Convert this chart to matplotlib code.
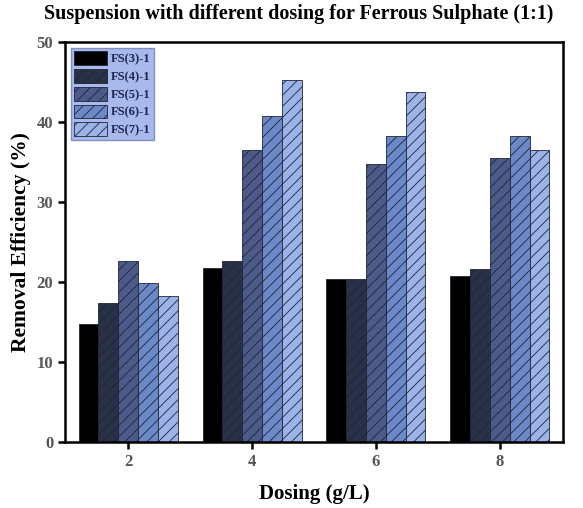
# grouped bar chart: removal efficiency vs dosing for ferrous sulphate suspensions
import numpy as np
import matplotlib
matplotlib.use('Agg')
import matplotlib.pyplot as plt

plt.rcParams['font.family'] = ['Liberation Serif', 'DejaVu Serif']
plt.rcParams['font.weight'] = 'bold'
plt.rcParams['hatch.linewidth'] = 0.6

dosing = [2, 4, 6, 8]
series = ['FS(3)-1', 'FS(4)-1', 'FS(5)-1', 'FS(6)-1', 'FS(7)-1']
fs3 = [14.8, 21.7, 20.4, 20.8]
fs4 = [17.4, 22.6, 20.4, 21.6]
fs5 = [22.6, 36.5, 34.7, 35.5]
fs6 = [19.9, 40.8, 38.3, 38.2]
fs7 = [18.3, 45.2, 43.8, 36.5]

colors = ['#000000', '#293148', '#4b5a89', '#6b88c9', '#9cb3ea']
hatches = ['', '///', '///', '///', '///']

fig = plt.figure(figsize=(5.83, 5.08), dpi=100)
ax = fig.add_axes([65/583, 1-442/508, 498/583, 400/508])

w = 0.32
x = np.array(dosing, dtype=float)
for i, (name, vals) in enumerate(zip(series, [fs3, fs4, fs5, fs6, fs7])):
    ax.bar(x + (i - 2) * w, vals, width=w, color=colors[i], hatch=hatches[i],
           edgecolor='#1e2535', linewidth=0.6, label=name)

ax.set_xlim(0.98, 9.02)
ax.set_ylim(0, 50)
ax.set_xticks(dosing)
ax.set_yticks(range(0, 51, 10))
for s in ax.spines.values():
    s.set_linewidth(1.8)
ax.tick_params(direction='out', width=1.8, length=5, labelsize=12, colors='black')
for lab in ax.get_xticklabels() + ax.get_yticklabels():
    lab.set_color('#555555')
    lab.set_fontweight('bold')

ax.set_xlabel('Dosing (g/L)', fontsize=15, fontweight='bold', labelpad=10)
ax.set_ylabel('Removal Efficiency (%)', fontsize=15.5, fontweight='bold', labelpad=4)
fig.text(0.513, 0.972, 'Suspension with different dosing for Ferrous Sulphate (1:1)',
         ha='center', va='center', fontsize=14.5, fontweight='bold')

leg = ax.legend(loc='upper left', fontsize=9, frameon=True, fancybox=False,
                handlelength=2.6, handleheight=1.3, labelspacing=0.3,
                borderaxespad=0.45, borderpad=0.3, handletextpad=0.3)
leg.get_frame().set_facecolor('#a9b9ec')
leg.get_frame().set_edgecolor('#8090c0')
leg.get_frame().set_alpha(1)
for t in leg.get_texts():
    t.set_color('#1c2450')
    t.set_fontweight('bold')

plt.savefig('out.png', dpi=100)
